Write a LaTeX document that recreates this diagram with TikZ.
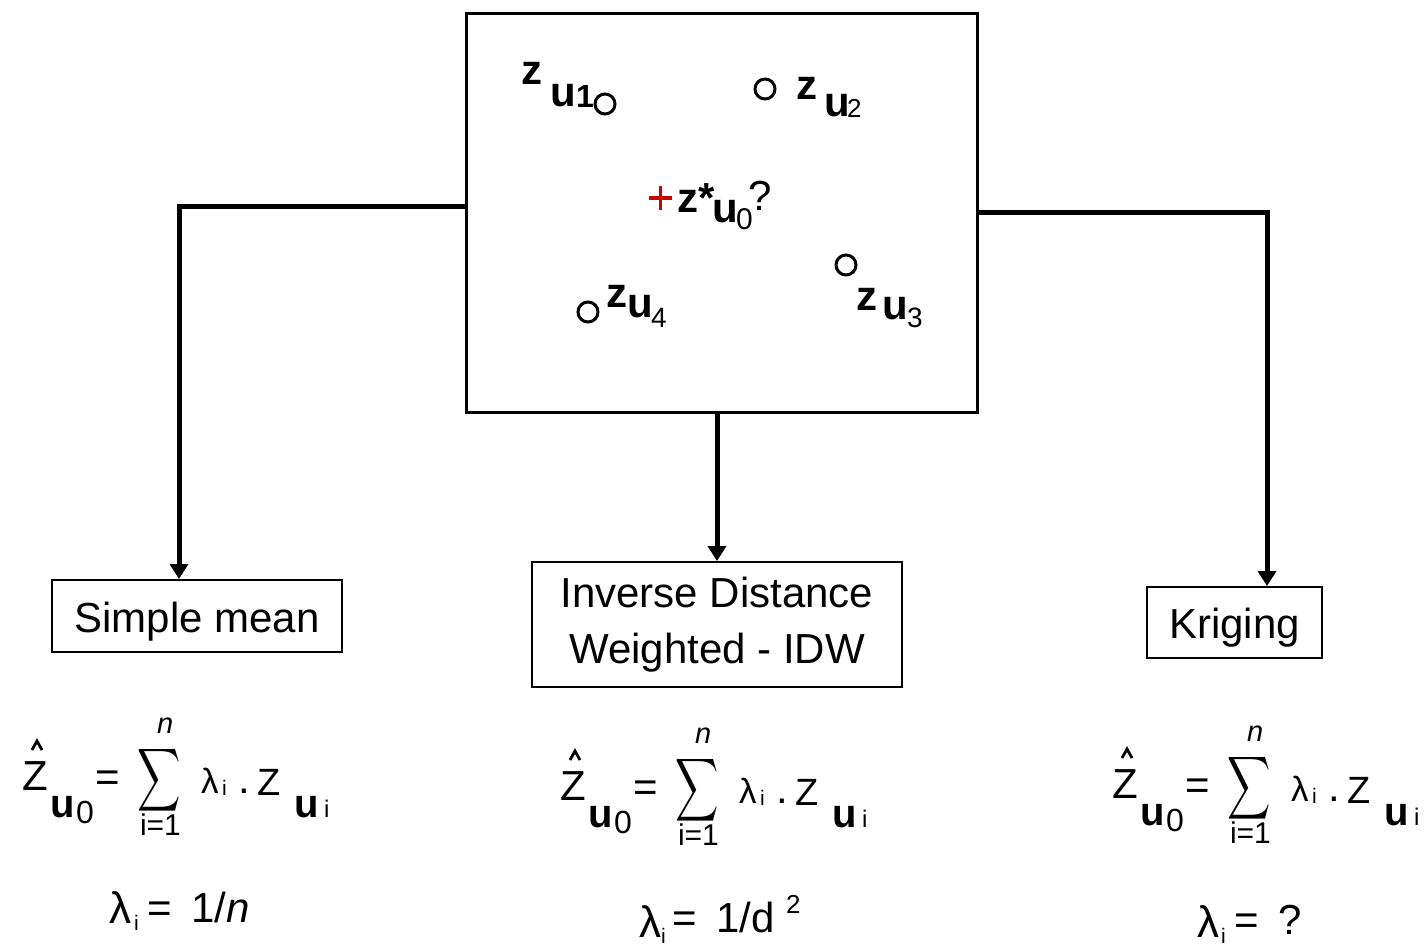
\documentclass[tikz,border=0pt]{standalone}
\usepackage{fontspec}
\usepackage{graphicx}
\setmainfont{Liberation Sans}
\usetikzlibrary{arrows.meta}
\definecolor{crossred}{RGB}{204,0,0}
\newcommand\fs[1]{\fontsize{#1}{#1}\selectfont}
\tikzset{
  txt/.style={inner sep=0pt, outer sep=0pt},
  lb/.style={txt, anchor=base west},
  zb/.style={lb, font=\fs{21pt}\bfseries},
  subr/.style={lb, font=\fs{14pt}},
  pt/.style={circle, draw, line width=1.5pt, minimum size=10pt, inner sep=0pt},
  methodbox/.style={draw, line width=1pt, inner sep=0pt, font=\fontsize{21pt}{28pt}\selectfont, align=center},
  onebox/.style={methodbox, text height=16pt, text depth=0pt},
  conn/.style={line width=2.5pt, -{Triangle[width=9pt,length=7.5pt]}},
  hatline/.style={line width=1.4pt},
}
\newcommand\formula[3]{%
\begin{scope}[shift={(#2,#3)}]
  \draw[hatline] (32,750) -- (37,741) -- (42,750);
  \node[lb, font=\fs{21pt}] (Z#1) at (22,790) {Z};
  \node[lb, font=\fs{20pt}\bfseries] (u#1) at (50,817) {u};
  \node[lb, font=\fs{16pt}] (o#1) at (76,823) {0};
  \node[lb, font=\fs{21pt}] (eq#1) at (95,791) {=};
  \node[txt] (S#1) at (159,780) {\normalsize\scalebox{1.5}[2.2]{$\displaystyle\sum$}};
  \node[lb, font=\fs{14.5pt}\itshape] (n#1) at (157,733) {n};
  \node[lb, font=\fs{15pt}] (ione#1) at (140,835) {i=1};
  \node[lb, font=\fs{17.5pt}] (l#1) at (201,793) {λ};
  \node[lb, font=\fs{10.5pt}] (li#1) at (222,795) {i};
  \node[lb, font=\fs{21pt}] (dot#1) at (238,793) {.};
  \node[lb, font=\fs{19pt}] (Zi#1) at (257,795) {Z};
  \node[lb, font=\fs{20pt}\bfseries] (ui#1) at (294,817) {u};
  \node[lb, font=\fs{12pt}] (ii#1) at (324,817) {i};
\end{scope}}
\begin{document}
\begin{tikzpicture}[x=0.5pt,y=-0.5pt]
\useasboundingbox (0,0) rectangle (1427,946);

% top box
\node[draw, line width=1.5pt, minimum width=255.5pt, minimum height=199pt, inner sep=0pt] (top) at (721.5,213) {};

% sample points
\node[pt] (c1) at (605,104) {};
\node[zb] (z1) at (521,85) {z};
\node[zb] (u1) at (550,107) {u};
\node[lb, font=\fs{16pt}\bfseries] (s1) at (576,108) {1};

\node[pt] (c2) at (765,89) {};
\node[zb] (z2) at (796,100) {z};
\node[zb] (u2) at (824,117) {u};
\node[subr, font=\fs{13pt}] (s2) at (847,118) {2};

\node[pt] (c3) at (846,265) {};
\node[zb] (z3) at (856,310) {z};
\node[zb] (u3) at (882,320) {u};
\node[subr] (s3) at (907,328) {3};

\node[pt] (c4) at (588,312) {};
\node[zb] (z4) at (606,307) {z};
\node[zb] (u4) at (627,318) {u};
\node[subr] (s4) at (651,328) {4};

% estimation point
\draw[crossred, line width=1.8pt] (649,198) -- (672,198);
\draw[crossred, line width=1.8pt] (660.5,186) -- (660.5,210);
\node[zb] (z0) at (677,213) {z*};
\node[zb] (u0) at (712,223) {u};
\node[subr, font=\fs{15pt}] (s0) at (736,230) {0};
\node[lb, font=\fs{21pt}] (q0) at (748,211) {?};

% method boxes
\node[onebox, minimum width=145pt, minimum height=36pt] (sm) at (197,616) {Simple mean};
\node[methodbox, minimum width=185pt, minimum height=62.5pt] (idw) at (717,624.5) {Inverse Distance\\Weighted - IDW};
\node[onebox, minimum width=87.5pt, minimum height=35.5pt] (kr) at (1234.5,622.5) {Kriging};

% connectors
\draw[conn] ([yshift=3pt]top.west) -| ([xshift=-9pt]sm.north);
\draw[conn] (top.south -| idw.north) -- (idw.north);
\draw[conn] (top.east) -| ([xshift=16.25pt]kr.north);

% formulas
\formula{a}{0}{0}
\formula{b}{538}{10}
\formula{c}{1090}{8}

% weights
\node[lb, font=\fs{22pt}] (la) at (109,923) {λ};
\node[lb, font=\fs{10.5pt}] (lia) at (134,930) {i};
\node[lb, font=\fs{21pt}] (wa) at (147,922) {=\hspace{10pt}1/\textit{n}};

\node[lb, font=\fs{22pt}] (lb2) at (639,937) {λ};
\node[lb, font=\fs{10.5pt}] (lib) at (661,943) {i};
\node[lb, font=\fs{21pt}] (wb) at (672,932) {=\hspace{10pt}1/d};
\node[lb, font=\fs{13pt}] (wb2) at (786,913) {2};

\node[lb, font=\fs{22pt}] (lc) at (1197,937) {λ};
\node[lb, font=\fs{10.5pt}] (lic) at (1221,943) {i};
\node[lb, font=\fs{21pt}] (wc) at (1234,934) {=\hspace{10pt}?};
\end{tikzpicture}
\end{document}
